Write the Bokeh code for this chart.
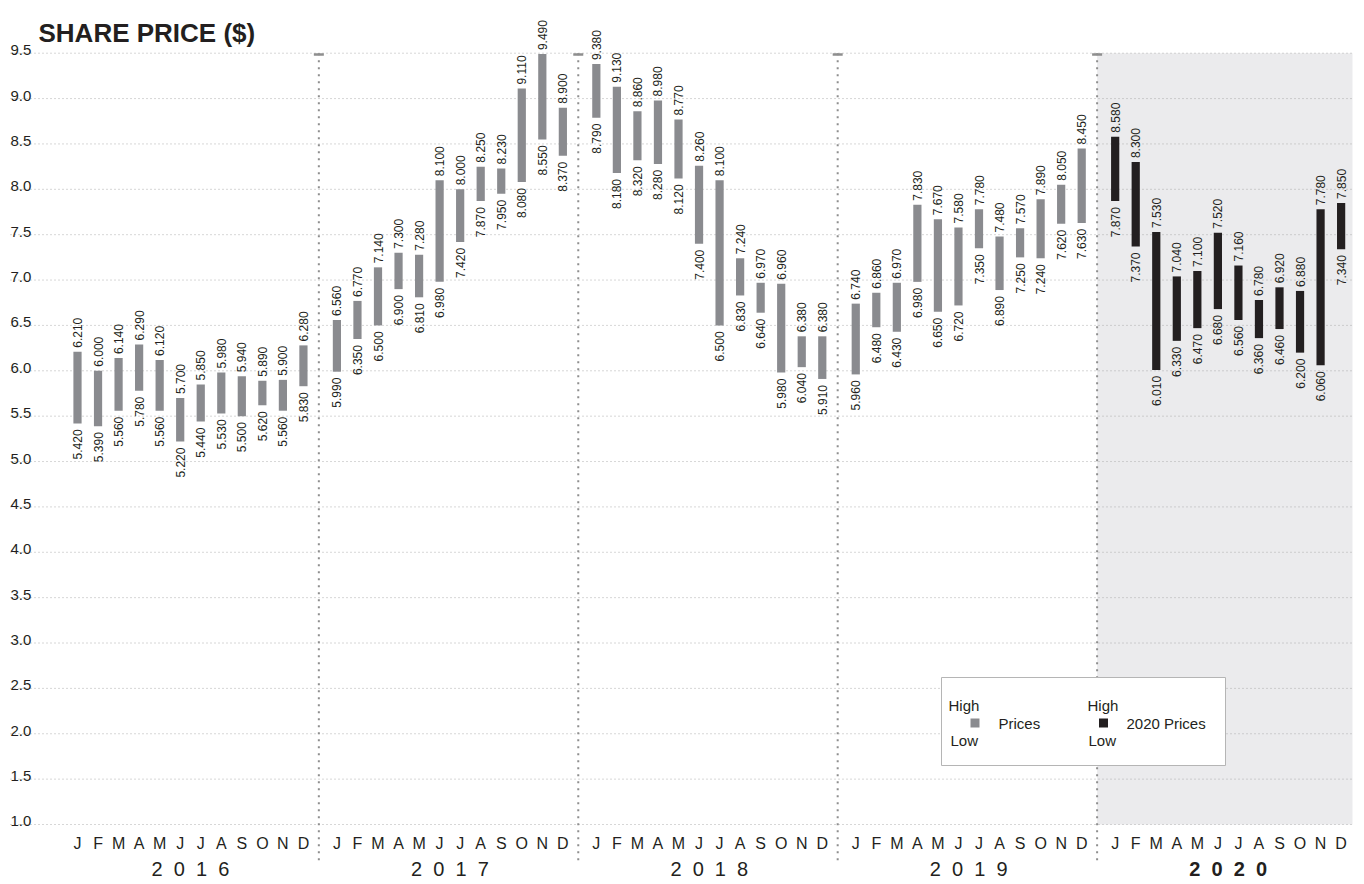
import math
from bokeh.plotting import figure
from bokeh.models import Range1d, ColumnDataSource
from bokeh.core.properties import value
from bokeh.embed import file_html
from bokeh.resources import INLINE

# ---------------- data ----------------
years = ["2016", "2017", "2018", "2019", "2020"]
months = ["J", "F", "M", "A", "M", "J", "J", "A", "S", "O", "N", "D"]
y_ticks = [1.0, 1.5, 2.0, 2.5, 3.0, 3.5, 4.0, 4.5, 5.0, 5.5, 6.0, 6.5, 7.0, 7.5, 8.0, 8.5, 9.0, 9.5]

high_2016 = [6.21, 6.00, 6.14, 6.29, 6.12, 5.70, 5.85, 5.98, 5.94, 5.89, 5.90, 6.28]
low_2016 = [5.42, 5.39, 5.56, 5.78, 5.56, 5.22, 5.44, 5.53, 5.50, 5.62, 5.56, 5.83]
high_2017 = [6.56, 6.77, 7.14, 7.30, 7.28, 8.10, 8.00, 8.25, 8.23, 9.11, 9.49, 8.90]
low_2017 = [5.99, 6.35, 6.50, 6.90, 6.81, 6.98, 7.42, 7.87, 7.95, 8.08, 8.55, 8.37]
high_2018 = [9.38, 9.13, 8.86, 8.98, 8.77, 8.26, 8.10, 7.24, 6.97, 6.96, 6.38, 6.38]
low_2018 = [8.79, 8.18, 8.32, 8.28, 8.12, 7.40, 6.50, 6.83, 6.64, 5.98, 6.04, 5.91]
high_2019 = [6.74, 6.86, 6.97, 7.83, 7.67, 7.58, 7.78, 7.48, 7.57, 7.89, 8.05, 8.45]
low_2019 = [5.96, 6.48, 6.43, 6.98, 6.65, 6.72, 7.35, 6.89, 7.25, 7.24, 7.62, 7.63]
high_2020 = [8.58, 8.30, 7.53, 7.04, 7.10, 7.52, 7.16, 6.78, 6.92, 6.88, 7.78, 7.85]
low_2020 = [7.87, 7.37, 6.01, 6.33, 6.47, 6.68, 6.56, 6.36, 6.46, 6.20, 6.06, 7.34]

highs = [high_2016, high_2017, high_2018, high_2019, high_2020]
lows = [low_2016, low_2017, low_2018, low_2019, low_2020]

# ---------------- layout ----------------
W, H = 1364, 884
UNIT = 20.54          # px per month slot
X0_PX = 77.0          # px of first bar
YEAR_STEP = 12.63     # slots per year incl. gap
Y_SCALE = 90.74       # px per price unit
Y95_PX = 52.7

def dx(px):
    return (px - X0_PX) / UNIT

def dy(py):
    return 9.5 - (py - Y95_PX) / Y_SCALE

GRAY = "#8a8b8f"
BLACK = "#231f20"
TXT = "#231f20"
FONT = value("Liberation Sans")

p = figure(width=W, height=H, output_backend="svg", toolbar_location=None,
           x_range=Range1d(dx(0), dx(W)), y_range=Range1d(dy(H), dy(0)),
           x_axis_location=None, y_axis_location=None, min_border=0,
           outline_line_color=None, background_fill_color="white")
p.grid.visible = False

x_left = dx(10)
x_right = dx(1352)
seps = [yi * YEAR_STEP + 11.75 for yi in range(len(years) - 1)]

# 2020 shaded band
p.quad(left=[seps[-1]], right=[x_right], bottom=[y_ticks[0]], top=[y_ticks[-1]],
       fill_color="#ebebed", line_color=None)

# horizontal dotted gridlines
p.segment(x0=[x_left] * len(y_ticks), x1=[x_right] * len(y_ticks), y0=y_ticks, y1=y_ticks,
          line_color="#a6a6a6", line_width=0.9, line_dash="1 3")

# y tick labels
p.text(x=[x_left] * len(y_ticks), y=y_ticks, text=["%.1f" % t for t in y_ticks],
       text_align="left", text_baseline="alphabetic", y_offset=-3,
       text_font=FONT, text_font_size="15px", text_color=TXT)

# year separators
p.segment(x0=seps, x1=seps, y0=[y_ticks[-1]] * len(seps), y1=[dy(862)] * len(seps),
          line_color="#8e8e8e", line_width=2, line_dash="2 5")
p.rect(x=seps, y=[dy(54)] * len(seps), width=10, height=2.5,
       width_units="screen", height_units="screen", fill_color="#8e8e8e", line_color=None)

# bars + labels
for yi, yr in enumerate(years):
    xs = [yi * YEAR_STEP + m for m in range(12)]
    col = BLACK if yr == "2020" else GRAY
    src = ColumnDataSource(dict(x=xs, top=highs[yi], bottom=lows[yi],
                                ht=["%.3f" % v for v in highs[yi]],
                                lt=["%.3f" % v for v in lows[yi]]))
    p.vbar(x="x", top="top", bottom="bottom", width=0.4, source=src,
           fill_color=col, line_color=None)
    p.text(x="x", y="top", text="ht", source=src, angle=math.pi / 2,
           text_align="left", text_baseline="middle", y_offset=-4,
           text_font=FONT, text_font_size="12px", text_color=TXT)
    p.text(x="x", y="bottom", text="lt", source=src, angle=math.pi / 2,
           text_align="right", text_baseline="middle", y_offset=6,
           text_font=FONT, text_font_size="12px", text_color=TXT)
    # month letters
    p.text(x=xs, y=[dy(843)] * 12, text=months, text_align="center", text_baseline="middle",
           text_font=FONT, text_font_size="16px", text_color=TXT)
    # year label (letter-spaced)
    p.text(x=[yi * YEAR_STEP + 5.5], y=[dy(868)], text=["\u00a0\u00a0".join(yr)],
           text_align="center", text_baseline="middle", text_font=FONT,
           text_font_size="20px", text_color=TXT,
           text_font_style="bold" if yr == "2020" else "normal")

# title
p.text(x=[dx(38)], y=[dy(32)], text=["SHARE PRICE ($)"], text_align="left",
       text_baseline="alphabetic", text_font=FONT, text_font_size="26px",
       text_font_style="bold", text_color=TXT)

# legend
p.quad(left=[dx(941)], right=[dx(1225)], top=[dy(677)], bottom=[dy(765)],
       fill_color="white", line_color="#b5b5b5", line_width=1)
leg_sw_x = [dx(974.5), dx(1103)]
p.rect(x=leg_sw_x, y=[dy(722.5)] * 2, width=9, height=9, width_units="screen",
       height_units="screen", fill_color=[GRAY, BLACK], line_color=None)
p.text(x=[dx(948), dx(1087)], y=[dy(705)] * 2, text=["High", "High"], text_align="left",
       text_baseline="middle", text_font=FONT, text_font_size="15px", text_color=TXT)
p.text(x=[dx(950), dx(1088)], y=[dy(740)] * 2, text=["Low", "Low"], text_align="left",
       text_baseline="middle", text_font=FONT, text_font_size="15px", text_color=TXT)
p.text(x=[dx(998), dx(1126)], y=[dy(722.5)] * 2, text=["Prices", "2020 Prices"], text_align="left",
       text_baseline="middle", text_font=FONT, text_font_size="15px", text_color=TXT)

open("out.html", "w").write(file_html(p, INLINE))
